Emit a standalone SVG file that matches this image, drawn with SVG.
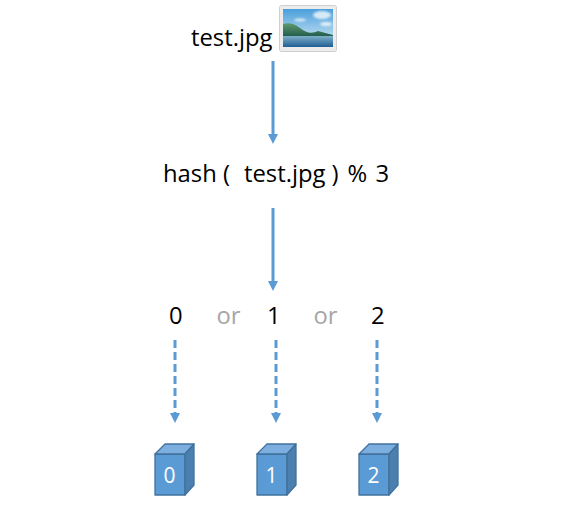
<svg xmlns="http://www.w3.org/2000/svg" width="583" height="514" viewBox="0 0 583 514">
<style>
.t{font-family:"Open Sans","Noto Sans",sans-serif;font-size:23.800px;fill:#000}
.o{font-family:"Open Sans","Noto Sans",sans-serif;font-size:23.800px;fill:#a6a6a6}
.c{font-family:"Open Sans","Noto Sans",sans-serif;font-size:21px;fill:#fff;text-anchor:middle}
.a{stroke:#5b9bd5;stroke-width:3;fill:none;marker-end:url(#m)}
.d{stroke-dasharray:8 4}
.f{fill:#5b9bd5}.p{fill:#7cafe0}.s{fill:#4a7fb0}
.e{stroke:#41719c;stroke-width:1.3;stroke-linejoin:round}
</style>
<defs>
<marker id="m" markerUnits="userSpaceOnUse" markerWidth="10" markerHeight="10" refX="0" refY="5" orient="auto" viewBox="0 0 10 10"><path d="M0 0L10 5L0 10Z" fill="#5b9bd5"/></marker>
<linearGradient id="sky" x1="0" y1="0" x2="0" y2="1"><stop offset="0" stop-color="#4a9fdc"/><stop offset="1" stop-color="#e2f0f6"/></linearGradient>
<linearGradient id="sea" x1="0" y1="0" x2="0" y2="1"><stop offset="0" stop-color="#7fb0c8"/><stop offset="1" stop-color="#1f5f94"/></linearGradient>
<linearGradient id="land" x1="0" y1="0" x2="0" y2="1"><stop offset="0" stop-color="#5f9a70"/><stop offset="1" stop-color="#1f5a4a"/></linearGradient>
<filter id="b" x="-30%" y="-30%" width="160%" height="160%"><feGaussianBlur stdDeviation="1.200"/></filter>
<g id="cube">
<path class="f e" d="M0 10H30V51H0Z"/>
<path class="p e" d="M0 10L10 0H39L30 10Z"/>
<path class="s e" d="M30 10L39 0V41L30 51Z"/>
</g>
</defs>
<g id="connectors">
<path class="a" d="M273 61V134"/>
<path class="a" d="M273 208V281"/>
<path class="a d" d="M175 340V413"/>
<path class="a d" d="M276 340V413"/>
<path class="a d" d="M377 340V413"/>
</g>
<g id="source">
<text class="t" x="191" y="46">test.jpg</text>
<rect x="279.500" y="5.500" width="57" height="46" rx="2" fill="#ececec" stroke="#cfcfcf"/>
<rect x="283" y="9" width="50" height="38" fill="url(#sky)"/>
<g fill="#fff" opacity=".75" filter="url(#b)"><ellipse cx="322" cy="15" rx="9" ry="4"/><ellipse cx="300" cy="20" rx="6" ry="1.500"/><ellipse cx="326" cy="24" rx="6" ry="2"/></g>
<path d="M283 24C289 22 295 24 300 28C306 33 312 34 318 31L333 35V37H283Z" fill="url(#land)"/>
<rect x="283" y="36" width="50" height="11" fill="url(#sea)"/>
</g>
<g id="hash"><text class="t" y="182"><tspan x="163">hash (</tspan><tspan x="244">test.jpg</tspan><tspan x="331.500">)</tspan><tspan x="347.500">%</tspan><tspan x="375.500">3</tspan></text></g>
<g id="n0"><text class="t" x="169" y="324">0</text></g>
<g id="or1"><text class="o" x="216.500" y="324">or</text></g>
<g id="n1"><text class="t" x="267" y="324">1</text></g>
<g id="or2"><text class="o" x="313.500" y="324">or</text></g>
<g id="n2"><text class="t" x="371" y="324">2</text></g>
<g id="bucket0"><use href="#cube" x="155" y="444"/><text class="c" x="169.500" y="483">0</text></g>
<g id="bucket1"><use href="#cube" x="257" y="444"/><text class="c" x="271.500" y="483">1</text></g>
<g id="bucket2"><use href="#cube" x="359" y="444"/><text class="c" x="373.500" y="483">2</text></g>
</svg>
